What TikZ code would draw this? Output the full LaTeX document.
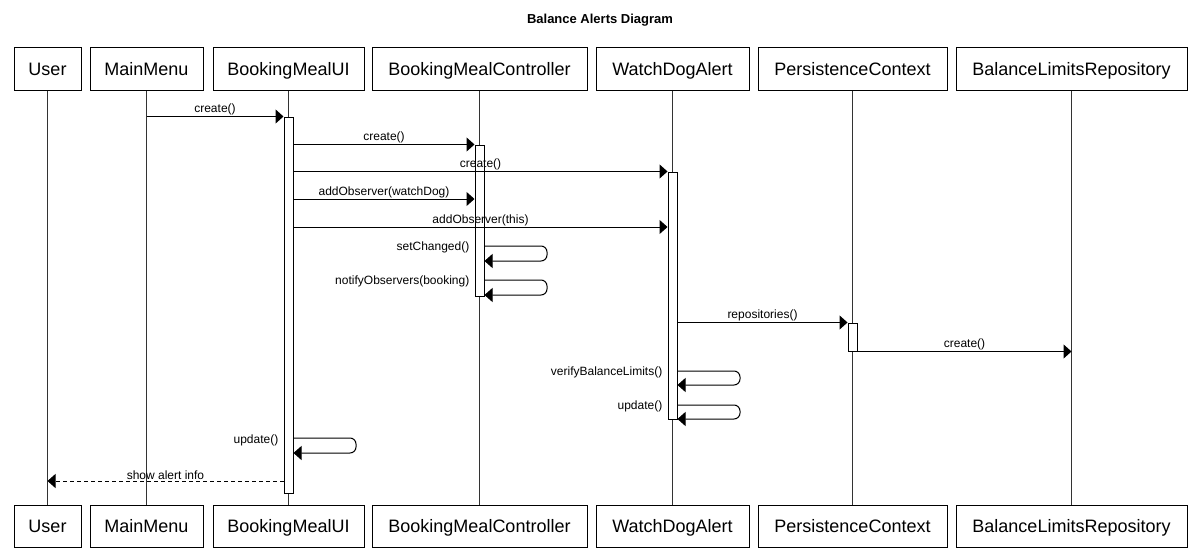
\documentclass[tikz,border=0pt]{standalone}
\usepackage{fontspec}
\setmainfont{Liberation Sans}
\usetikzlibrary{arrows.meta}

\tikzset{
  part/.style={draw, line width=1pt, minimum height=42pt, inner sep=0pt, text height=15pt, text depth=3pt, font=\fontsize{18}{21}\selectfont},
  life/.style={line width=1pt, black!80},
  act/.style={draw, fill=white, line width=1pt, minimum width=9pt, inner sep=0pt},
  msg/.style={line width=1pt, -{Triangle[length=8pt,width=14pt]}},
  reply/.style={msg, dash pattern=on 4pt off 3pt},
  lbl/.style={font=\fontsize{12}{14}\selectfont, inner sep=1pt, above},
  selflbl/.style={font=\fontsize{12}{14}\selectfont, inner sep=0pt, anchor=east, xshift=-5pt},
}

\begin{document}
\begin{tikzpicture}[x=1pt, y=-1pt]
\useasboundingbox (0,0) rectangle (1198,551);

\node[font=\bfseries\fontsize{13}{15}\selectfont] (title) at (600,20) {Balance Alerts Diagram};

% participants
\node[part, minimum width=67pt] (user) at (47.5,69) {User};
\node[part, minimum width=113pt] (menu) at (146.5,69) {MainMenu};
\node[part, minimum width=151pt] (ui) at (288.5,69) {BookingMealUI};
\node[part, minimum width=215pt] (ctrl) at (479.5,69) {BookingMealController};
\node[part, minimum width=153pt] (dog) at (672.5,69) {WatchDogAlert};
\node[part, minimum width=189pt] (ctx) at (852.5,69) {PersistenceContext};
\node[part, minimum width=231pt] (repo) at (1071.5,69) {BalanceLimitsRepository};

\node[part, minimum width=67pt] (user2) at (47.5,526) {User};
\node[part, minimum width=113pt] (menu2) at (146.5,526) {MainMenu};
\node[part, minimum width=151pt] (ui2) at (288.5,526) {BookingMealUI};
\node[part, minimum width=215pt] (ctrl2) at (479.5,526) {BookingMealController};
\node[part, minimum width=153pt] (dog2) at (672.5,526) {WatchDogAlert};
\node[part, minimum width=189pt] (ctx2) at (852.5,526) {PersistenceContext};
\node[part, minimum width=231pt] (repo2) at (1071.5,526) {BalanceLimitsRepository};

% lifelines
\foreach \p in {user,menu,ui,ctrl,dog,ctx,repo}
  \draw[life] (\p.south) -- (\p2.north);

% activations
\node[act, minimum height=376pt] (uiAct) at (ui.south |- 0,305) {};
\node[act, minimum height=151pt] (ctrlAct) at (ctrl.south |- 0,220.5) {};
\node[act, minimum height=247pt] (dogAct) at (dog.south |- 0,295.5) {};
\node[act, minimum height=28pt] (ctxAct) at (ctx.south |- 0,337) {};

% messages
\draw[msg] (menu.south |- uiAct.north) -- node[lbl] (m1) {create()} (uiAct.north west);
\draw[msg] (uiAct.east |- ctrlAct.north) -- node[lbl] (m2) {create()} (ctrlAct.north west);
\draw[msg] (uiAct.east |- dogAct.north) -- node[lbl] (m3) {create()} (dogAct.north west);
\draw[msg] (uiAct.east |- 0,199) -- node[lbl] (m4) {addObserver(watchDog)} (ctrlAct.west |- 0,199);
\draw[msg] (uiAct.east |- 0,227) -- node[lbl] (m5) {addObserver(this)} (dogAct.west |- 0,227);

\draw[msg, rounded corners=6pt] (ctrlAct.east |- 0,246) -- (547,246) -- (547,261) -- (ctrlAct.east |- 0,261);
\node[selflbl] (m6) at (ctrlAct.west |- 0,247) {setChanged()};
\draw[msg, rounded corners=6pt] (ctrlAct.east |- 0,280) -- (547,280) -- (547,295) -- (ctrlAct.east |- 0,295);
\node[selflbl] (m7) at (ctrlAct.west |- 0,281) {notifyObservers(booking)};

\draw[msg] (dogAct.east |- ctxAct.north) -- node[lbl] (m8) {repositories()} (ctxAct.north west);
\draw[msg] (ctxAct.south east) -- node[lbl] (m9) {create()} (repo.south |- ctxAct.south);

\draw[msg, rounded corners=6pt] (dogAct.east |- 0,371) -- (740,371) -- (740,385) -- (dogAct.east |- 0,385);
\node[selflbl] (m10) at (dogAct.west |- 0,372) {verifyBalanceLimits()};
\draw[msg, rounded corners=6pt] (dogAct.east |- 0,405) -- (740,405) -- (740,419) -- (dogAct.east |- 0,419);
\node[selflbl] (m11) at (dogAct.west |- 0,406) {update()};

\draw[msg, rounded corners=6pt] (uiAct.east |- 0,438) -- (356,438) -- (356,453) -- (uiAct.east |- 0,453);
\node[selflbl] (m12) at (uiAct.west |- 0,440) {update()};

\draw[reply] (uiAct.west |- 0,481) -- node[lbl] (m13) {show alert info} (user.south |- 0,481);
\end{tikzpicture}
\end{document}
